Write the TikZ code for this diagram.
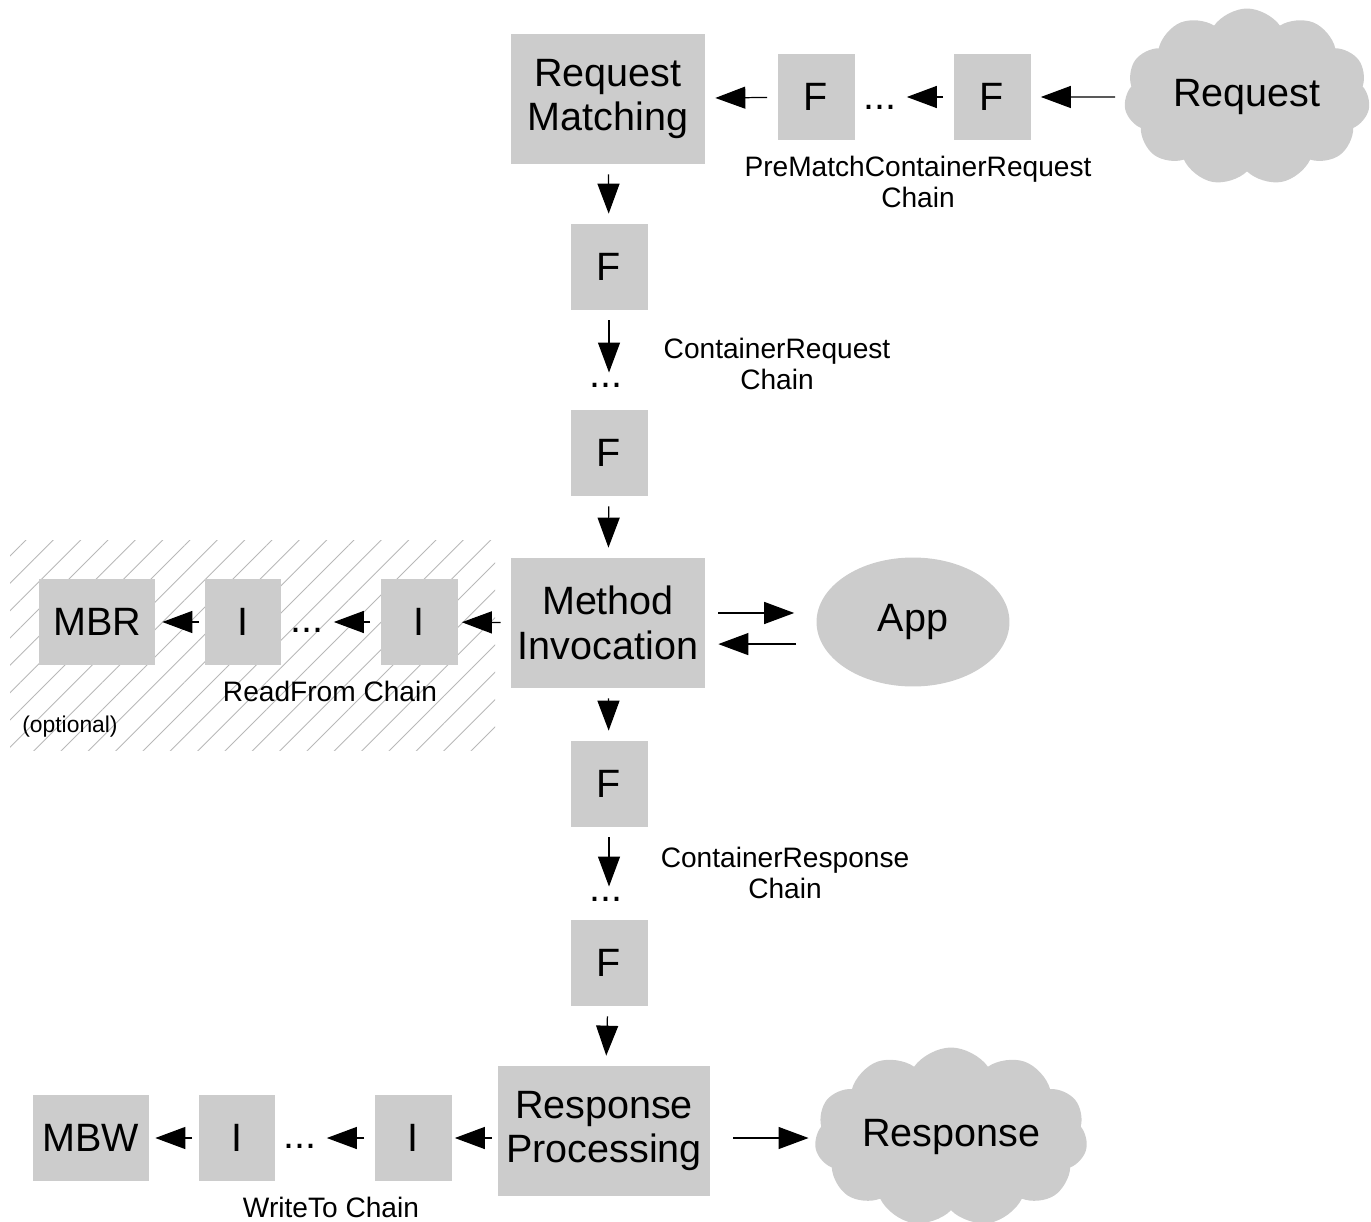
\documentclass[tikz,border=0pt]{standalone}
\usepackage{fontspec}
\setmainfont{Liberation Sans}
\usetikzlibrary{shapes,arrows.meta,positioning,patterns.meta}
\definecolor{boxgray}{HTML}{CCCCCC}
\definecolor{hatchgray}{HTML}{B8B8B8}
\newcommand\bigfont{\fontsize{22.5}{25.6}\selectfont}
\newcommand\labelfont{\fontsize{16}{17.6}\selectfont}
\newcommand\optfont{\fontsize{13}{15}\selectfont}
\tikzstyle{Filter} = [fill=boxgray, rectangle, minimum width=1.54cm, minimum height=1.72cm, inner sep=0pt, font=\bigfont]
\tikzstyle{Block} = [Filter, minimum width=3.88cm, minimum height=2.6cm, align=center]
\tikzstyle{Cloud} = [fill=boxgray, cloud, cloud puffs=11, cloud puff arc=110, aspect=1.4, inner sep=0pt, font=\bigfont]
\tikzstyle{App} = [fill=boxgray, ellipse, minimum width=3.86cm, minimum height=2.58cm, inner sep=0pt, font=\bigfont]
\tikzstyle{Dots} = [inner sep=0pt, font=\bigfont]
\tikzstyle{Text} = [inner sep=0pt, align=center, font=\labelfont]
\tikzstyle{Flow} = [->, line width=0.7pt, shorten <=0.2cm, shorten >=0.2cm]

\begin{document}
\begin{tikzpicture}[x=0.02cm, y=-0.02cm, >={Triangle[length=0.6cm,width=0.44cm]}]
    \useasboundingbox (0,0) rectangle (1371,1222);
    % optional part
    \fill[pattern={Lines[angle=45,distance=11pt,line width=0.5pt]}, pattern color=hatchgray] (10,540) rectangle (495,750);

    % pre-matching
    \node[Block]  (match)   at (608,99)   {Request\\Matching};
    \node[Filter] (pre1)    at (816,97)   {F};
    \node[Dots]   (predots) at (880,107)  {...};
    \node[Filter] (pre2)    at (992,97)   {F};
    \node[Cloud, minimum width=4.92cm, minimum height=3.54cm] (request) at (1247,97) {Request};
    \node[Text]   (prelabel) at (918,182) {PreMatchContainerRequest\\Chain};

    % request filters
    \node[Filter] (req1)    at (609,267)  {F};
    \node[Dots]   (reqdots) at (606,385)  {...};
    \node[Filter] (req2)    at (609,453)  {F};
    \node[Text]   (reqlabel) at (777,364) {ContainerRequest\\Chain};

    % invocation
    \node[Block]  (invoke)   at (608,623) {Method\\Invocation};
    \node[App]    (app)      at (913,622) {App};
    \node[Filter] (read1)    at (419,622) {I};
    \node[Dots]   (readdots) at (307,630) {...};
    \node[Filter] (read2)    at (243,622) {I};
    \node[Filter, minimum width=2.32cm] (mbr) at (97,622) {MBR};
    \node[Text]   (readlabel) at (330,691) {ReadFrom Chain};
    \node[Text, font=\optfont] (optional) at (70,727) {(optional)};

    % response filters
    \node[Filter] (resp1)    at (609,784) {F};
    \node[Dots]   (respdots) at (606,899) {...};
    \node[Filter] (resp2)    at (609,963) {F};
    \node[Text]   (resplabel) at (785,873) {ContainerResponse\\Chain};

    % response processing
    \node[Block, minimum width=4.24cm] (process) at (604,1131) {Response\\Processing};
    \node[Filter] (write1)    at (413,1138) {I};
    \node[Dots]   (writedots) at (300,1146) {...};
    \node[Filter] (write2)    at (237,1138) {I};
    \node[Filter, minimum width=2.32cm] (mbw) at (91,1138) {MBW};
    \node[Text]   (writelabel) at (331,1207) {WriteTo Chain};
    \node[Cloud, minimum width=5.46cm, minimum height=3.0cm, aspect=1.7] (response) at (951,1137) {Response};

    \draw[Flow] (request) to (pre2);
    \draw[Flow] (pre2.west) to (pre2.west -| predots.east);
    \draw[Flow] (pre1) to (match);
    \draw[Flow] (match) to (req1);
    \draw[Flow] (req1.south) to (req1.south |- reqdots.north);
    \draw[Flow] (req2) to (invoke);
    \draw[Flow, shorten <=0.26cm, shorten >=0.44cm] ([yshift=5.7pt]invoke.east) to ([yshift=5.7pt]invoke.east -| app.west);
    \draw[Flow, shorten <=0.4cm, shorten >=0.26cm] ([yshift=-12pt]invoke.east -| app.west) to ([yshift=-12pt]invoke.east);
    \draw[Flow, shorten >=0.08cm] (invoke) to (read1);
    \draw[Flow] (read1.west) to (read1.west -| readdots.east);
    \draw[Flow, shorten <=0.1cm, shorten >=0.14cm] (read2) to (mbr);
    \draw[Flow] (invoke) to (resp1);
    \draw[Flow] (resp1.south) to (resp1.south |- respdots.north);
    \draw[Flow] (resp2) to (process);
    \draw[Flow, shorten <=0.12cm, shorten >=0.06cm] (write1 -| process.west) to (write1);
    \draw[Flow] (write1.west) to (write1.west -| writedots.east);
    \draw[Flow, shorten <=0.12cm, shorten >=0.12cm] (write2) to (mbw);
    \draw[Flow, shorten <=0.46cm, shorten >=0.14cm] (write1 -| process.east) to (write1 -| response.west);
  \end{tikzpicture}
\end{document}
